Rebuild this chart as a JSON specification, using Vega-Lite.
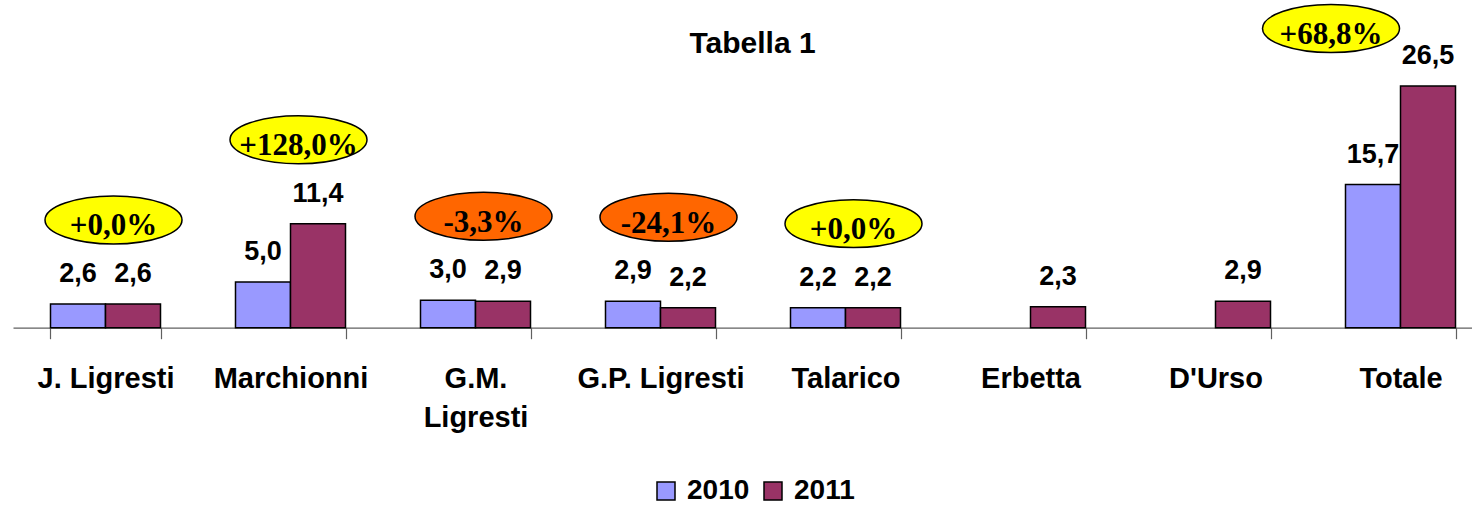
{
  "$schema": "https://vega.github.io/schema/vega-lite/v6.json",
  "autosize": {"type": "none"},
  "width": 1459,
  "height": 273.6,
  "padding": {"left": 13, "top": 54.1, "right": 0, "bottom": 178.3},
  "background": "white",
  "config": {"view": {"stroke": null}},
  "title": {"text": "Tabella 1", "font": "Liberation Sans", "fontSize": 30, "fontWeight": "bold", "color": "black", "anchor": "middle", "baseline": "alphabetic", "offset": 0, "dx": 10, "dy": 81.5},
  "datasets": {
    "bars": [
      {"cat": "J. Ligresti", "year": "2010", "value": 2.6},
      {"cat": "J. Ligresti", "year": "2011", "value": 2.6},
      {"cat": "Marchionni", "year": "2010", "value": 5.0},
      {"cat": "Marchionni", "year": "2011", "value": 11.4},
      {"cat": "G.M. Ligresti", "year": "2010", "value": 3.0},
      {"cat": "G.M. Ligresti", "year": "2011", "value": 2.9},
      {"cat": "G.P. Ligresti", "year": "2010", "value": 2.9},
      {"cat": "G.P. Ligresti", "year": "2011", "value": 2.2},
      {"cat": "Talarico", "year": "2010", "value": 2.2},
      {"cat": "Talarico", "year": "2011", "value": 2.2},
      {"cat": "Erbetta", "year": "2011", "value": 2.3},
      {"cat": "D'Urso", "year": "2011", "value": 2.9},
      {"cat": "Totale", "year": "2010", "value": 15.7},
      {"cat": "Totale", "year": "2011", "value": 26.5}
    ],
    "annot": [
      {"cat": "J. Ligresti", "pct": "+0,0%", "sign": "pos"},
      {"cat": "Marchionni", "pct": "+128,0%", "sign": "pos"},
      {"cat": "G.M. Ligresti", "pct": "-3,3%", "sign": "neg"},
      {"cat": "G.P. Ligresti", "pct": "-24,1%", "sign": "neg"},
      {"cat": "Talarico", "pct": "+0,0%", "sign": "pos"},
      {"cat": "Totale", "pct": "+68,8%", "sign": "pos"}
    ]
  },
  "data": {"name": "bars"},
  "encoding": {
    "x": {
      "field": "cat",
      "type": "nominal",
      "scale": {
        "domain": ["J. Ligresti", "Marchionni", "G.M. Ligresti", "G.P. Ligresti", "Talarico", "Erbetta", "D'Urso", "Totale"],
        "range": [0, 1480],
        "paddingInner": 0.4054,
        "paddingOuter": 0.2027
      },
      "axis": {
        "title": null,
        "orient": "bottom",
        "domainColor": "#606060",
        "domainWidth": 1.2,
        "tickColor": "#606060",
        "tickWidth": 1.2,
        "tickSize": 11,
        "tickBand": "extent",
        "labelAngle": 0,
        "labelFont": "Liberation Sans",
        "labelFontWeight": "bold",
        "labelFontSize": 29,
        "labelColor": "black",
        "labelBaseline": "alphabetic",
        "labelPadding": 49,
        "labelLineHeight": 39,
        "labelLimit": 400,
        "labelExpr": "datum.label == 'G.M. Ligresti' ? ['G.M.', 'Ligresti'] : datum.label"
      }
    }
  },
  "layer": [
    {
      "mark": {"type": "bar", "stroke": "black", "strokeWidth": 1.5},
      "encoding": {
        "xOffset": {"field": "year", "type": "nominal", "scale": {"domain": ["2010", "2011"]}},
        "y": {"field": "value", "type": "quantitative", "scale": {"domain": [0, 30], "nice": false}, "axis": null},
        "color": {
          "field": "year",
          "type": "nominal",
          "scale": {"domain": ["2010", "2011"], "range": ["#9999FF", "#993366"]},
          "legend": {
            "title": null,
            "orient": "none",
            "legendX": 639,
            "legendY": 423,
            "direction": "horizontal",
            "padding": 0,
            "symbolType": "square",
            "symbolSize": 324,
            "symbolStrokeColor": "black",
            "symbolStrokeWidth": 1.5,
            "symbolOpacity": 1,
            "labelFont": "Liberation Sans",
            "labelFontWeight": "bold",
            "labelFontSize": 28,
            "labelColor": "black",
            "labelOffset": 7,
            "columnPadding": 9
          }
        }
      }
    },
    {
      "transform": [{"calculate": "replace(format(datum.value, '.1f'), '.', ',')", "as": "lab"}],
      "mark": {"type": "text", "font": "Liberation Sans", "fontWeight": "bold", "fontSize": 27, "color": "black", "baseline": "alphabetic", "align": "center", "dy": -22},
      "encoding": {
        "xOffset": {"field": "year", "type": "nominal", "scale": {"domain": ["2010", "2011"]}},
        "y": {"field": "value", "type": "quantitative", "scale": {"domain": [0, 30], "nice": false}, "axis": null},
        "text": {"field": "lab", "type": "nominal"}
      }
    },
    {
      "transform": [
        {"aggregate": [{"op": "max", "field": "value", "as": "top"}], "groupby": ["cat"]},
        {"lookup": "cat", "from": {"data": {"name": "annot"}, "key": "cat", "fields": ["pct", "sign"]}},
        {"filter": "datum.pct != null"}
      ],
      "layer": [
        {
          "transform": [{"filter": "datum.cat != 'Totale'"}],
          "mark": {"type": "point", "shape": "M-1,0C-1,-0.193,-0.5523,-0.35,0,-0.35C0.5523,-0.35,1,-0.193,1,0C1,0.193,0.5523,0.35,0,0.35C-0.5523,0.35,-1,0.193,-1,0Z", "size": 18769, "filled": true, "opacity": 1, "stroke": "black", "strokeWidth": 1.5, "xOffset": 8, "yOffset": -84},
          "encoding": {
            "y": {"field": "top", "type": "quantitative", "scale": {"domain": [0, 30], "nice": false}, "axis": null},
            "fill": {"field": "sign", "type": "nominal", "scale": {"domain": ["pos", "neg"], "range": ["#FFFF00", "#FF6600"]}, "legend": null}
          }
        },
        {
          "transform": [{"filter": "datum.cat != 'Totale'"}],
          "mark": {"type": "text", "font": "Liberation Serif", "fontWeight": "bold", "fontSize": 31, "color": "black", "baseline": "alphabetic", "align": "center", "dx": 8, "dy": -68.5},
          "encoding": {
            "y": {"field": "top", "type": "quantitative", "scale": {"domain": [0, 30], "nice": false}, "axis": null},
            "text": {"field": "pct", "type": "nominal"}
          }
        },
        {
          "transform": [{"filter": "datum.cat == 'Totale'"}],
          "mark": {"type": "point", "shape": "M-1,0C-1,-0.193,-0.5523,-0.35,0,-0.35C0.5523,-0.35,1,-0.193,1,0C1,0.193,0.5523,0.35,0,0.35C-0.5523,0.35,-1,0.193,-1,0Z", "size": 18769, "filled": true, "opacity": 1, "stroke": "black", "strokeWidth": 1.5, "xOffset": -69.5, "yOffset": -57.5},
          "encoding": {
            "y": {"field": "top", "type": "quantitative", "scale": {"domain": [0, 30], "nice": false}, "axis": null},
            "fill": {"field": "sign", "type": "nominal", "scale": {"domain": ["pos", "neg"], "range": ["#FFFF00", "#FF6600"]}, "legend": null}
          }
        },
        {
          "transform": [{"filter": "datum.cat == 'Totale'"}],
          "mark": {"type": "text", "font": "Liberation Serif", "fontWeight": "bold", "fontSize": 31, "color": "black", "baseline": "alphabetic", "align": "center", "dx": -69.5, "dy": -42},
          "encoding": {
            "y": {"field": "top", "type": "quantitative", "scale": {"domain": [0, 30], "nice": false}, "axis": null},
            "text": {"field": "pct", "type": "nominal"}
          }
        }
      ]
    }
  ]
}
